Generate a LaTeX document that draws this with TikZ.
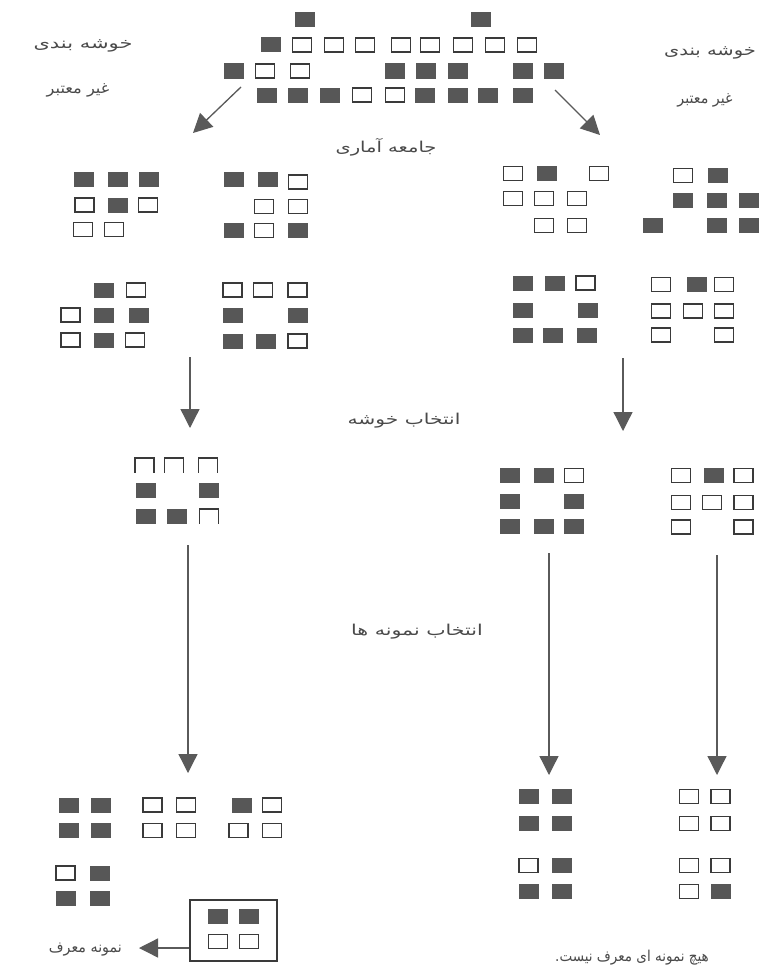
\documentclass[tikz,border=0pt]{standalone}
\usepackage{fontspec}
\usepackage{graphicx}
\usetikzlibrary{arrows.meta}
\TeXXeTstate=1
\newfontfamily\fafont[Script=Arabic]{DejaVu Sans}
\definecolor{sqdark}{HTML}{575757}
\definecolor{sqedge}{HTML}{3A3A3A}
\definecolor{arr}{HTML}{5A5A5A}
\definecolor{txt}{HTML}{4A4A4A}
\tikzset{
  fq/.style={fill=sqdark},
  eq/.style={draw=sqedge,line width=1.3pt,fill=white},
  uq/.style={draw=sqedge,line width=1.3pt},
  arrline/.style={draw=arr,line width=1.3pt,-{Triangle[length=19pt,width=19pt]},fill=arr},
  lbl/.style={text=txt,font=\fafont\fontsize{15}{18}\selectfont,inner sep=0pt},
}
\newcommand\FaTxt[2][1.3]{\scalebox{#1}[1]{\beginR #2\endR}}
\newcommand\SqF[2]{\fill[fq] ({#1-10},{#2-7.5}) rectangle ({#1+10},{#2+7.5});}
\newcommand\SqE[2]{\draw[eq] ({#1-9.5},{#2-7}) rectangle ({#1+9.5},{#2+7});}
\newcommand\SqU[2]{\draw[uq] ({#1-9.5},{#2+7.5}) -- ({#1-9.5},{#2-7}) -- ({#1+9.5},{#2-7}) -- ({#1+9.5},{#2+7.5});}
\begin{document}
\begin{tikzpicture}[x=1pt,y=-1pt]
\fill[white] (0,0) rectangle (758,974);
\useasboundingbox (0,0) rectangle (758,974);
% ---------- population ----------
\foreach \x/\y in {304.5/20,481/20,271/45,234/71,395/71,426/71,458/71,523/71,554/71,
  267/95,298/95,329.5/95,425/95,458/95,488/95,523/95} {\SqF{\x}{\y}}
\foreach \x/\y in {302/45,334/45,365/45,401/45,430/45,463/45,495/45,527/45,
  265/71,300/71,362/95,395/95} {\SqE{\x}{\y}}
% ---------- left clusters ----------
\foreach \x/\y in {84/179,118/179,148.5/179,118/205,
  233.5/179,268/179,233.5/230.5,298/230.5,
  104/290,103.5/315,138.5/315,103.5/340,
  232.5/315,297.5/315,232.5/341,265.5/341} {\SqF{\x}{\y}}
\foreach \x/\y in {84.5/205,148/205,83/229.5,114/229.5,
  298/182,264/206.5,298/206.5,264/230.5,
  136/290,70.5/315,70.5/340,135/340,
  232.5/290,263/290,297.5/290,297.5/341} {\SqE{\x}{\y}}
% ---------- right clusters ----------
\foreach \x/\y in {547/173.5,
  717.5/175.5,683/200.5,717/200.5,748.5/200.5,653/225.5,717/225.5,748.5/225.5,
  523/283,554.5/283,523/310,587.5/310,523/335,553/335,587/335,
  696.5/284.5} {\SqF{\x}{\y}}
\foreach \x/\y in {513/173.5,599/173.5,513/198.5,544/198.5,577/198.5,544/225.5,577/225.5,
  683/175.5,585.5/283,
  661/284.5,724/284.5,661/311,693/311,724/311,661/335,724/335} {\SqE{\x}{\y}}
% ---------- selected clusters ----------
\foreach \x/\y in {145.5/490,209/490,145.5/516,177/516} {\SqF{\x}{\y}}
\foreach \x/\y in {144.5/465,174/465,208/465,209/516} {\SqU{\x}{\y}}
\foreach \x/\y in {509.5/475.5,543.5/475.5,509.5/501,574/501,509.5/526,543.5/526,574/526,
  713.5/475.5} {\SqF{\x}{\y}}
\foreach \x/\y in {574/475.5,681/475.5,743.5/475.5,681/502.5,712/502.5,743.5/502.5,681/527,743.5/527} {\SqE{\x}{\y}}
% ---------- samples ----------
\foreach \x/\y in {69/805,100.5/805,69/830.5,100.5/830.5,241.5/805,100/873,65.5/898,100/898,
  218/916.5,249/916.5} {\SqF{\x}{\y}}
\foreach \x/\y in {152.5/805,186/805,152.5/830.5,186/830.5,272/805,238.5/830.5,272/830.5,
  65.5/873,218/941.5,249/941.5} {\SqE{\x}{\y}}
\node[draw=sqedge,line width=1.3pt,minimum width=87pt,minimum height=61pt,inner sep=0pt] (box) at (233.5,930.5) {};
\foreach \x/\y in {528.5/796.5,562/796.5,528.5/823.5,562/823.5,562/865.5,528.5/891.5,562/891.5,720.5/891.5} {\SqF{\x}{\y}}
\foreach \x/\y in {689/796.5,720.5/796.5,689/823.5,720.5/823.5,528.5/865.5,689/865.5,720.5/865.5,689/891.5} {\SqE{\x}{\y}}
% ---------- arrows ----------
\coordinate (a1s) at (241,87);  \coordinate (a1e) at (193,133);
\coordinate (a2s) at (555,90);  \coordinate (a2e) at (600,135);
\coordinate (a3s) at (190,357); \coordinate (a3e) at (190,428);
\coordinate (a4s) at (623,358); \coordinate (a4e) at (623,431);
\coordinate (a5s) at (188,545); \coordinate (a5e) at (188,773);
\coordinate (a6s) at (549,553); \coordinate (a6e) at (549,775);
\coordinate (a7s) at (717,555); \coordinate (a7e) at (717,775);
\coordinate (a8e) at (139,948);
\draw[arrline] (a1s) -- (a1e);
\draw[arrline] (a2s) -- (a2e);
\draw[arrline] (a3s) -- (a3e);
\draw[arrline] (a4s) -- (a4e);
\draw[arrline] (a5s) -- (a5e);
\draw[arrline] (a6s) -- (a6e);
\draw[arrline] (a7s) -- (a7e);
\draw[arrline] (box.west |- a8e) -- (a8e);
% ---------- labels ----------
\node[lbl] (lt1) at (83,46) {\FaTxt[1.4]{خوشه بندی}};
\node[lbl] (lt2) at (78,90) {\FaTxt[1.08]{غیر معتبر}};
\node[lbl] (rt1) at (710,53) {\FaTxt{خوشه بندی}};
\node[lbl] (rt2) at (705,100) {\FaTxt[0.95]{غیر معتبر}};
\node[lbl] (pop) at (386,147) {\FaTxt{جامعه آماری}};
\node[lbl] (selc) at (404,421) {\FaTxt[1.35]{انتخاب خوشه}};
\node[lbl] (sels) at (417,632) {\FaTxt[1.37]{انتخاب نمونه ها}};
\node[lbl,anchor=east] (rep) at (122,950) {\FaTxt[0.95]{نمونه معرف}};
\node[lbl] (norep) at (632,958) {\FaTxt[0.9]{هیچ نمونه ای معرف نیست.}};
\end{tikzpicture}
\end{document}
